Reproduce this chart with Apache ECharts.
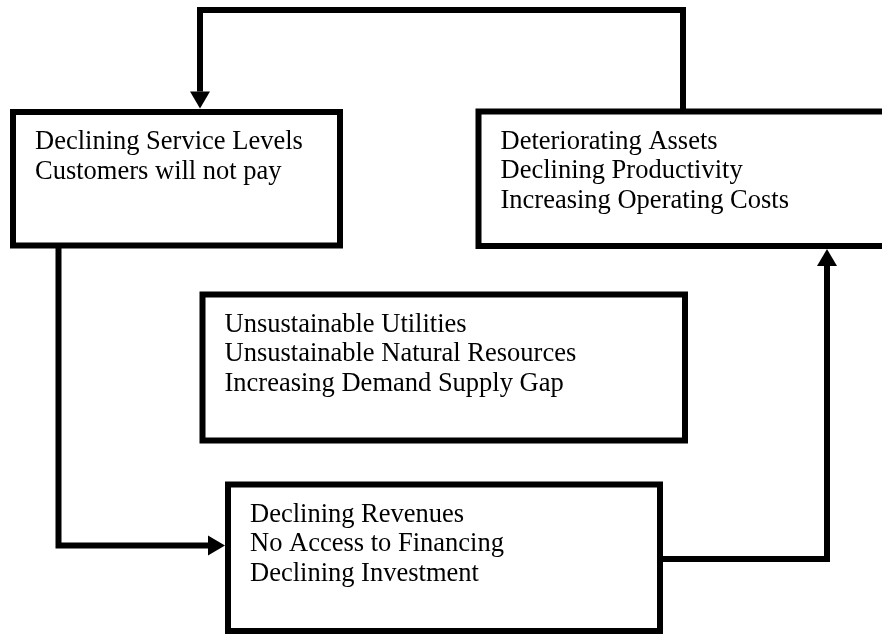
<!DOCTYPE html>
<html>
<head>
<meta charset="utf-8">
<title>Declining cycle</title>
<script src="https://cdn.jsdelivr.net/npm/echarts@6/dist/echarts.min.js"></script>
<style>
html,body{margin:0;padding:0;background:#fff;}
#main{width:882px;height:634px;}
</style>
</head>
<body>
<div id="main"></div>
<script>
// text of each box
var boxLines = [
	['Declining Service Levels', 'Customers will not pay'],
	['Deteriorating Assets', 'Declining Productivity', 'Increasing Operating Costs'],
	['Unsustainable Utilities', 'Unsustainable Natural Resources', 'Increasing Demand Supply Gap'],
	['Declining Revenues', 'No Access to Financing', 'Declining Investment']
];
// box edges (x to the right, y downwards)
var boxLeft = [13, 478.5, 202.5, 228];
var boxTop = [112, 111.5, 294.5, 484.5];
var boxRight = [340, 905, 685, 660];
var boxBottom = [245.5, 246, 440.5, 631];

// connector routes, the last point is the arrow tip
var routeTop = [[683, 111.5], [683, 10], [200, 10], [200, 108.5]];
var routeLeft = [[58.5, 245.5], [58.5, 545.5], [225, 545.5]];
var routeRight = [[660, 559], [827, 559], [827, 249]];
var routes = [routeTop, routeLeft, routeRight];

var FONT = '26.5px "Liberation Serif", "Times New Roman", serif';
var ARROW_LEN = 17, ARROW_HALF = 10;

var myChart = echarts.init(document.getElementById('main'));

function renderBox(params, api) {
	var p0 = api.coord([api.value(0), api.value(1)]);
	var p1 = api.coord([api.value(2), api.value(3)]);
	var children = [{
		type: 'rect',
		shape: { x: p0[0], y: p0[1], width: p1[0] - p0[0], height: p1[1] - p0[1] },
		style: { fill: '#fff', stroke: '#000', lineWidth: 6, lineJoin: 'miter' }
	}];
	var lines = boxLines[params.dataIndex];
	for (var j = 0; j < lines.length; j++) {
		children.push({
			type: 'text',
			style: {
				text: lines[j],
				x: p0[0] + 22,
				y: p0[1] + 30.5 + j * 29.3,
				font: FONT,
				fill: '#000',
				align: 'left',
				verticalAlign: 'middle'
			}
		});
	}
	return { type: 'group', children: children };
}

function renderRoute(params, api) {
	var route = routes[params.dataIndex];
	var pts = route.map(function (p) { return api.coord(p); });
	var tip = pts[pts.length - 1];
	var prev = pts[pts.length - 2];
	var dx = tip[0] - prev[0], dy = tip[1] - prev[1];
	var len = Math.sqrt(dx * dx + dy * dy);
	dx /= len; dy /= len;
	var base = [tip[0] - dx * ARROW_LEN, tip[1] - dy * ARROW_LEN];
	var linePts = pts.slice(0, pts.length - 1).concat([base]);
	return {
		type: 'group',
		children: [{
			type: 'polyline',
			shape: { points: linePts },
			style: { stroke: '#000', lineWidth: 6, fill: null, lineJoin: 'miter', lineCap: 'butt' }
		}, {
			type: 'polygon',
			shape: { points: [tip, [base[0] - dy * ARROW_HALF, base[1] + dx * ARROW_HALF], [base[0] + dy * ARROW_HALF, base[1] - dx * ARROW_HALF]] },
			style: { fill: '#000' }
		}]
	};
}

var option = {
	backgroundColor: '#fff',
	animation: false,
	grid: { left: 0, right: 0, top: 0, bottom: 0 },
	xAxis: { type: 'value', min: 0, max: 882, show: false },
	yAxis: { type: 'value', min: 0, max: 634, inverse: true, show: false },
	series: [{
		type: 'custom',
		renderItem: renderRoute,
		data: routes.map(function (r, i) { return [r[0][0], r[0][1], i]; })
	}, {
		type: 'custom',
		renderItem: renderBox,
		data: boxLines.map(function (b, i) { return [boxLeft[i], boxTop[i], boxRight[i], boxBottom[i]]; })
	}]
};

myChart.setOption(option);
</script>
</body>
</html>
